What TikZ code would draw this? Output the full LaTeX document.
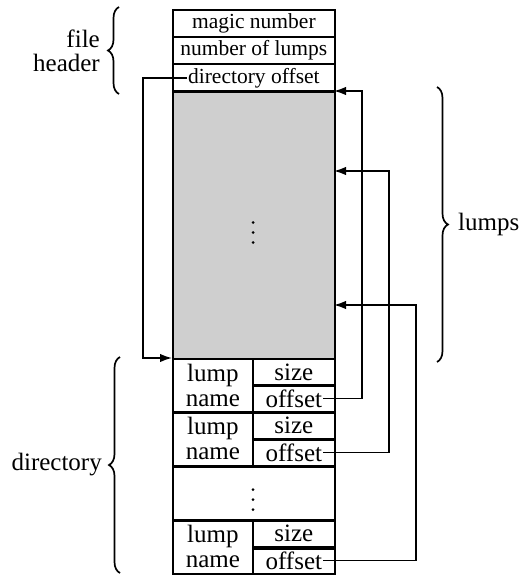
\documentclass[tikz,border=0pt]{standalone}
\usepackage{fontspec}
\setmainfont{Liberation Serif}
\usetikzlibrary{arrows.meta,decorations.pathreplacing}
\begin{document}
\begin{tikzpicture}[x=1pt,y=-1pt,
  cell/.style={draw, line width=1.7pt, inner sep=0pt, anchor=north west,
    align=center, font=\fontsize{25}{25}\selectfont},
  hdr/.style={cell, font=\fontsize{21.5}{24}\selectfont},
  txt/.style={inner sep=1pt, font=\fontsize{25}{25}\selectfont},
  hdrtxt/.style={inner sep=1pt, font=\fontsize{21.5}{24}\selectfont},
  thk/.style={line width=3.5pt},
  link/.style={line width=1.7pt, -{Latex[length=12pt,width=8.5pt]}},
  brc/.style={decorate, decoration={brace, amplitude=11pt}, line width=1.7pt},
  lbl/.style={inner sep=0pt, align=right, font=\fontsize{25}{24}\selectfont},
  dotm/.style={fill=black}]
\useasboundingbox (0,0) rectangle (527,575);

% file header
\node[hdr, minimum width=162pt, minimum height=27pt] (magic) at (172,9) {magic number};
\node[hdr, minimum width=162pt, minimum height=27pt] (nlumps) at (172,36) {number of lumps};
\node[hdr, minimum width=162pt, minimum height=27pt] (diroff) at (172,63) {};
\node[hdrtxt] (dirofft) at ([yshift=-1pt]diroff.center) {directory offset};

% lumps area
\node[cell, fill=black!19, minimum width=162pt, minimum height=267pt] (lumparea) at (172,91) {};
\draw[thk] (diroff.south west) -- (diroff.south east);
\fill[dotm] (253,222.5) circle (1.5pt) (253,232.5) circle (1.5pt) (253,242.5) circle (1.5pt);

% directory
\node[cell, minimum width=80pt, minimum height=53pt] (name1) at (172,358) {lump\\name};
\node[cell, minimum width=82pt, minimum height=26pt] (size1) at (252,358) {size};
\node[cell, minimum width=82pt, minimum height=27pt] (off1) at (252,384) {};
\node[txt] (off1t) at (off1.center) {offset};

\node[cell, minimum width=80pt, minimum height=54pt] (name2) at (172,411) {lump\\name};
\node[cell, minimum width=82pt, minimum height=27pt] (size2) at (252,411) {size};
\node[cell, minimum width=82pt, minimum height=27pt] (off2) at (252,438) {};
\node[txt] (off2t) at (off2.center) {offset};

\node[cell, minimum width=162pt, minimum height=54pt] (dirdots) at (172,465) {};
\fill[dotm] (253,489.5) circle (1.5pt) (253,499.5) circle (1.5pt) (253,509.5) circle (1.5pt);

\node[cell, minimum width=80pt, minimum height=54pt] (name3) at (172,519) {lump\\name};
\node[cell, minimum width=82pt, minimum height=27.5pt] (size3) at (252,519) {size};
\node[cell, minimum width=82pt, minimum height=26.5pt] (off3) at (252,546.5) {};
\node[txt] (off3t) at (off3.center) {offset};

\draw[thk] (size1.south west) -- (size1.south east);
\draw[thk] (size2.south west) -- (size2.south east);
\draw[thk] (size3.south west) -- (size3.south east);
\draw[thk] (name1.south west) -- (off1.south east);
\draw[thk] (name2.south west) -- (off2.south east);
\draw[thk] (dirdots.south west) -- (dirdots.south east);

% targets
\coordinate (t1) at (334,91);
\coordinate (t2) at (334,171);
\coordinate (t3) at (334,305);
\coordinate (c1) at (362,91);
\coordinate (c2) at (389,171);
\coordinate (c3) at (416,305);
\coordinate (cl) at (143,0);

% connectors
\draw[link] (dirofft.west) -| (cl |- name1.north west) -- (name1.north west);
\draw[link] (off1t.east) -| (c1) -- (t1);
\draw[link] (off2t.east) -| (c2) -- (t2);
\draw[link] (off3t.east) -| (c3) -- (t3);

% braces and labels
\draw[brc] (119,94) -- (119,7);
\node[lbl, anchor=east] (lblhdr) at (100,51) {file\\header};
\draw[brc] (437,87) -- (437,362);
\node[lbl, anchor=west] (lbllumps) at (458,224) {lumps};
\draw[brc] (120,573) -- (120,357);
\node[lbl, anchor=east] (lbldir) at (102,465) {directory};
\end{tikzpicture}
\end{document}
